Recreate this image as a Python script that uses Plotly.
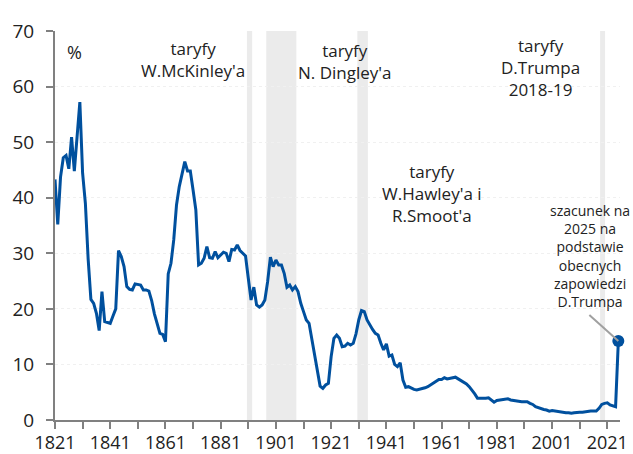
import plotly.graph_objects as go

years = list(range(1821, 2026))

tariff = [
    # 1821-1830
    43.3, 35.2, 43.7, 47.2, 47.6, 45.2, 50.9, 44.8, 51.0, 57.2,
    # 1831-1840
    44.4, 39.0, 29.0, 21.7, 21.0, 19.2, 16.1, 23.1, 17.7, 17.6,
    # 1841-1850
    17.4, 18.7, 20.0, 30.5, 29.4, 27.6, 24.0, 23.5, 23.4, 24.5,
    # 1851-1860
    24.4, 24.3, 23.4, 23.4, 23.2, 21.5, 19.1, 17.5, 15.6, 15.4,
    # 1861-1870
    14.1, 26.3, 28.2, 32.4, 38.7, 42.0, 44.4, 46.5, 44.8, 44.8,
    # 1871-1880
    41.4, 37.8, 27.9, 28.2, 29.1, 31.2, 29.2, 29.1, 30.3, 29.2,
    # 1881-1890
    29.7, 30.2, 30.0, 28.5, 30.7, 30.6, 31.5, 30.5, 30.0, 29.5,
    # 1891-1900
    25.5, 21.6, 23.9, 20.7, 20.3, 20.7, 21.6, 24.9, 29.3, 27.6,
    # 1901-1910
    28.8, 27.9, 27.9, 26.4, 23.9, 24.3, 23.4, 24.0, 23.1, 21.0,
    # 1911-1920
    19.5, 18.0, 17.4, 14.4, 11.4, 8.4, 6.1, 5.7, 6.3, 6.6,
    # 1921-1930
    11.4, 14.7, 15.3, 14.7, 13.2, 13.3, 13.8, 13.5, 13.8, 15.5,
    # 1931-1940
    18.0, 19.7, 19.5, 18.0, 17.1, 16.3, 15.6, 15.3, 13.8, 12.6,
    # 1941-1950
    13.7, 11.5, 11.7, 10.0, 9.6, 10.3, 7.2, 5.9, 6.0, 5.7,
    # 1951-1960
    5.5, 5.4, 5.5, 5.6, 5.8, 6.0, 6.3, 6.6, 7.0, 7.3,
    # 1961-1970
    7.3, 7.6, 7.4, 7.5, 7.6, 7.7, 7.4, 7.1, 6.8, 6.5,
    # 1971-1980
    6.0, 5.4, 4.7, 3.9, 3.9, 3.8, 3.9, 4.0, 3.6, 3.2,
    # 1981-1990
    3.5, 3.6, 3.7, 3.7, 3.8, 3.6, 3.5, 3.4, 3.4, 3.3,
    # 1991-2000
    3.3, 3.3, 3.0, 2.8, 2.4, 2.2, 2.1, 1.9, 1.8, 1.6,
    # 2001-2010
    1.7, 1.6, 1.5, 1.5, 1.4, 1.3, 1.3, 1.2, 1.3, 1.4,
    # 2011-2020
    1.4, 1.4, 1.5, 1.6, 1.6, 1.6, 1.6, 2.1, 2.8, 3.0,
    # 2021-2025
    3.1, 2.7, 2.5, 2.4, 14.2,
]

estimate_year = [2025]
estimate_value = [14.2]

band_starts = [1890.5, 1897.5, 1930.5, 2018.4]
band_ends = [1892.4, 1908.4, 1934.3, 2020.2]

tick_years = list(range(1821, 2022, 20))
tick_labels = [str(y) for y in tick_years]

FONT = "Open Sans"
BLUE = "#00509e"
TXT = "#222222"

fig = go.Figure()

for x0, x1 in zip(band_starts, band_ends):
    fig.add_shape(type="rect", xref="x", yref="y", x0=x0, x1=x1, y0=0, y1=70,
                  fillcolor="#ebebeb", line_width=0, layer="below")

fig.add_trace(go.Scatter(x=years, y=tariff, mode="lines",
                         line=dict(color=BLUE, width=3), hoverinfo="skip",
                         showlegend=False, cliponaxis=False))
fig.add_trace(go.Scatter(x=estimate_year, y=estimate_value, mode="markers",
                         marker=dict(color=BLUE, size=12), showlegend=False,
                         cliponaxis=False))

# pointer line from the note to the 2025 estimate
fig.add_shape(type="line", xref="x", yref="y", x0=2014.5, y0=18.9,
              x1=2025, y1=14.2, line=dict(color="#a0a0a0", width=2))

ann = [
    (1828.0, 66.2, "%", 18),
    (1870.9, 64.8, "taryfy<br>W.McKinley'a", 17),
    (1926.1, 64.6, "taryfy<br>N. Dingley'a", 17),
    (1996.7, 63.5, "taryfy<br>D.Trumpa<br>2018-19", 17),
    (1957.5, 40.7, "taryfy<br>W.Hawley'a i<br>R.Smoot'a", 17),
    (2014.6, 29.5, "szacunek na<br>2025 na<br>podstawie<br>obecnych<br>zapowiedzi<br>D.Trumpa", 14),
]
for x, y, t, s in ann:
    fig.add_annotation(x=x, y=y, xref="x", yref="y", text=t, showarrow=False,
                       font=dict(family=FONT, size=s, color=TXT), align="center")

fig.update_layout(
    width=633, height=454,
    margin=dict(l=55, r=13, t=31, b=34),
    paper_bgcolor="white", plot_bgcolor="white",
    font=dict(family=FONT, color=TXT),
    xaxis=dict(range=[1821, 2025.6], tickvals=tick_years, ticktext=tick_labels,
               automargin=False, ticklabelstandoff=-2,
               showgrid=False, zeroline=False, showline=True, linecolor="#808080",
               linewidth=2, ticks="outside", ticklen=7, tickwidth=2, tickcolor="#808080",
               tickfont=dict(family=FONT, size=18, color=TXT),
               minor=dict(tickvals=list(range(1831, 2022, 20)), ticks="outside",
                          ticklen=7, tickwidth=2, tickcolor="#808080", showgrid=False)),
    yaxis=dict(range=[0, 70], tickvals=[0, 10, 20, 30, 40, 50, 60, 70],
               automargin=False, ticklabelstandoff=8,
               showgrid=True, gridcolor="#f0f0f0", griddash="dot", gridwidth=1,
               zeroline=False, showline=True, linecolor="#808080", linewidth=2,
               ticks="outside", ticklen=7, tickwidth=2, tickcolor="#808080",
               tickfont=dict(family=FONT, size=19, color=TXT)),
)

fig.write_html("out.html", config={"displayModeBar": False},
               post_script="document.body.style.margin='0';document.body.style.overflow='hidden';")
